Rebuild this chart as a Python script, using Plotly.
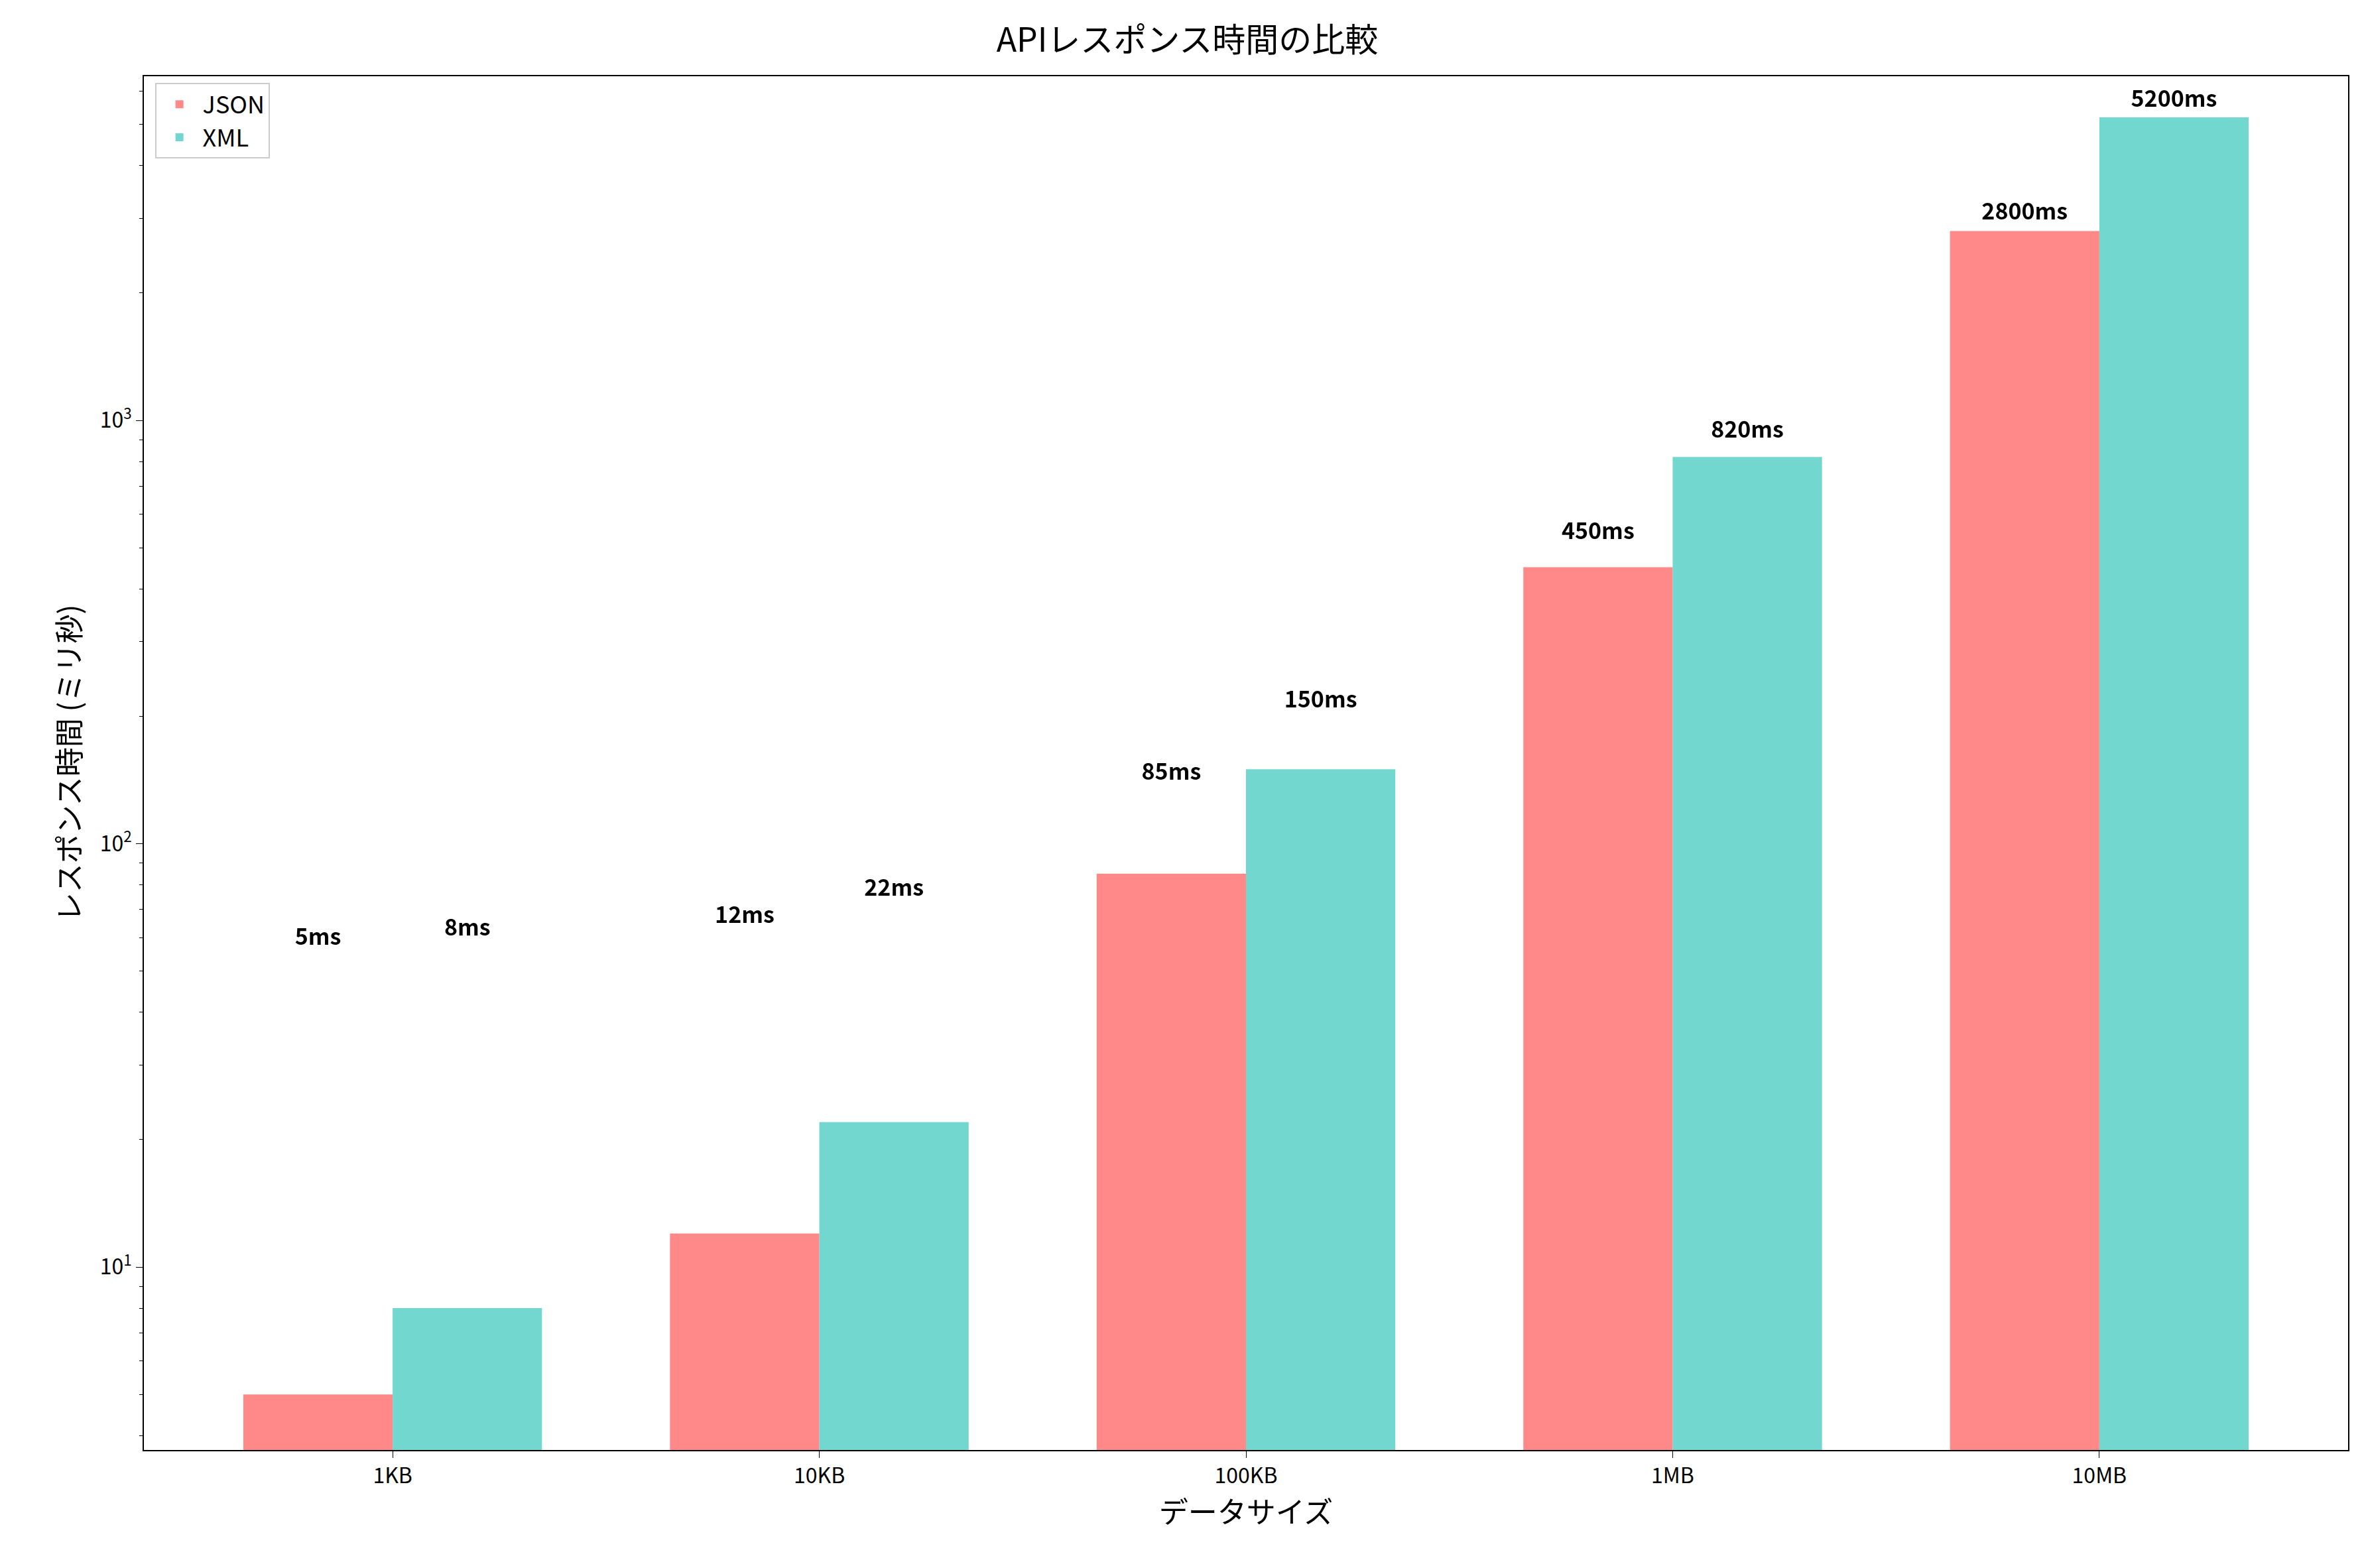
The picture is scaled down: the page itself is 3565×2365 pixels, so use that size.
import plotly.graph_objects as go

sizes = ['1KB', '10KB', '100KB', '1MB', '10MB']
json_ms = [5, 12, 85, 450, 2800]
xml_ms = [8, 22, 150, 820, 5200]

font = 'Noto Sans CJK JP'
fig = go.Figure()
fig.add_trace(go.Bar(x=sizes, y=json_ms, name='JSON', marker_color='#FF6B6B', opacity=0.8,
                     marker_line_width=0, offsetgroup='a'))
fig.add_trace(go.Bar(x=sizes, y=xml_ms, name='XML', marker_color='#4ECDC4', opacity=0.8,
                     marker_line_width=0, offsetgroup='b'))

# value labels, placed 50ms above each bar as in the original
for vals, grp in [(json_ms, 'a'), (xml_ms, 'b')]:
    fig.add_trace(go.Bar(x=sizes, y=[v + 50 for v in vals], offsetgroup=grp, showlegend=False,
                         marker=dict(color='rgba(0,0,0,0)', line=dict(width=0)), hoverinfo='skip',
                         text=[f'<b>{v}ms</b>' for v in vals], textposition='outside',
                         textfont=dict(size=34, color='black', family=font), cliponaxis=False))

fig.update_layout(
    width=3565, height=2365, barmode='group', bargap=0.3, bargroupgap=0,
    plot_bgcolor='white', paper_bgcolor='white',
    font=dict(family=font, size=32, color='black'),
    title=dict(text='APIレスポンス時間の比較', x=0.5, xanchor='center', y=0.985, font=dict(size=50)),
    margin=dict(l=209, r=32, t=107, b=186),
    xaxis=dict(title=dict(text='データサイズ', font=dict(size=44), standoff=14), showline=True, linecolor='black',
               linewidth=2, mirror=True, ticks='outside', ticklen=10, tickcolor='black', range=[-0.583, 4.583]),
    yaxis=dict(type='log', range=[0.568, 3.813], title=dict(text='レスポンス時間 (ミリ秒)', font=dict(size=44)),
               showline=True, linecolor='black', linewidth=2, mirror=True, showgrid=False, ticks='outside',
               ticklen=10, tickcolor='black', tickvals=[10, 100, 1000],
               ticktext=['10<sup>1</sup>', '10<sup>2</sup>', '10<sup>3</sup>'],
               minor=dict(ticks='outside', ticklen=5, tickcolor='black',
                          tickvals=[4, 5, 6, 7, 8, 9, 20, 30, 40, 50, 60, 70, 80, 90,
                                    200, 300, 400, 500, 600, 700, 800, 900, 2000, 3000, 4000, 5000, 6000])),
    legend=dict(x=0.005, y=0.995, xanchor='left', yanchor='top', bordercolor='#cccccc', borderwidth=2,
                font=dict(size=36), bgcolor='white', itemwidth=60),
)
fig.write_html('out.html')
